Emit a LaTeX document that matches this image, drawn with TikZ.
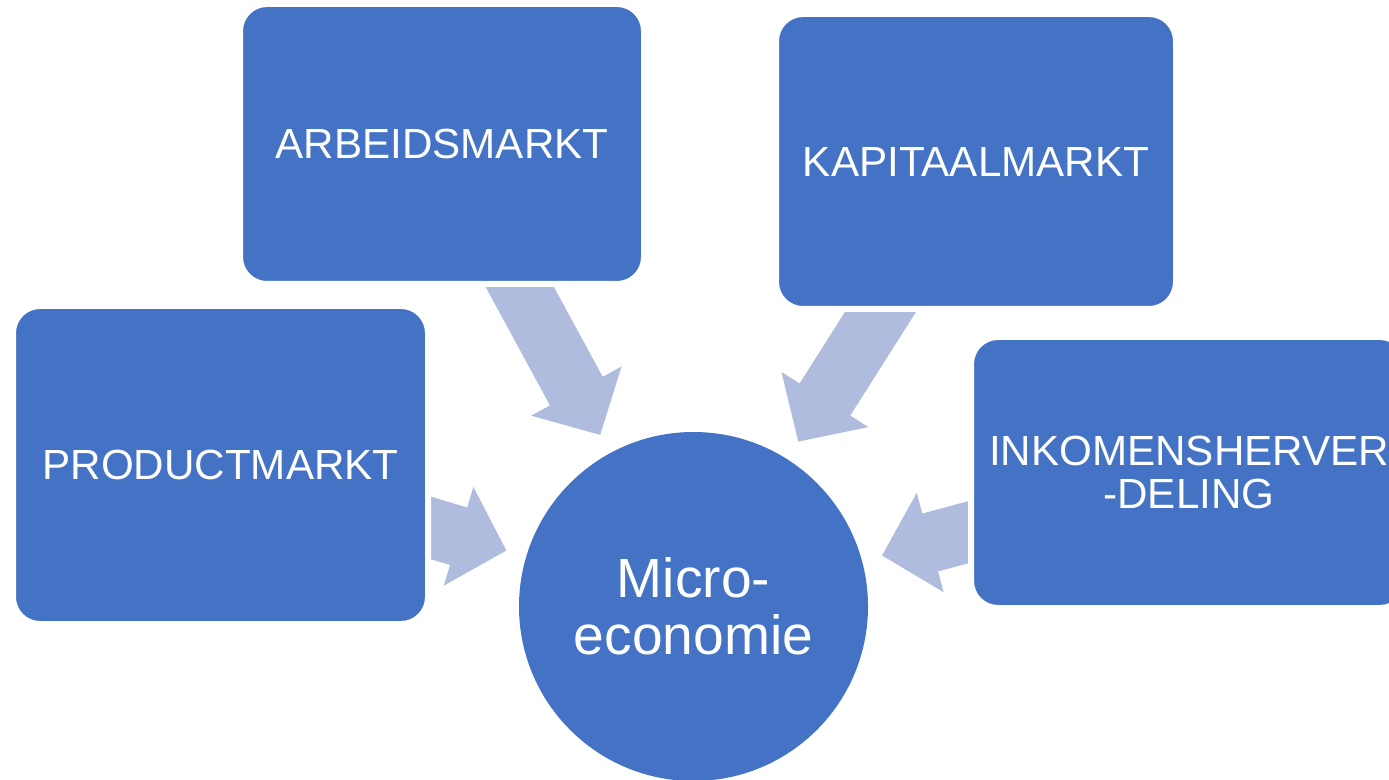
\documentclass[tikz,border=0pt]{standalone}
\usepackage{fontspec}
\setmainfont{Liberation Sans}
\usetikzlibrary{arrows.meta,backgrounds}
\definecolor{blokblauw}{HTML}{4472C4}
\definecolor{pijlblauw}{RGB}{175,188,221}

\begin{document}
\begin{tikzpicture}[
  markt/.style={rectangle, rounded corners=0.27cm, fill=blokblauw, draw=white,
    line width=0.06cm, text=white, align=center, inner sep=0pt,
    font=\fontsize{12}{12.2}\selectfont},
  pijl/.style={draw=pijlblauw, line width=0.6cm,
    -{Triangle[width=1cm,length=0.5cm]}, shorten >=0.2cm}
]
\useasboundingbox (0,0) rectangle (13.89,-7.80);

\node[markt, minimum width=4.04cm, minimum height=2.80cm] (arbeid) at (4.42,-1.44) {ARBEIDSMARKT};
\node[markt, minimum width=4.00cm, minimum height=2.95cm] (kapitaal) at (9.76,-1.615) {KAPITAALMARKT};
\node[markt, minimum width=4.15cm, minimum height=3.18cm] (product) at (2.205,-4.65) {PRODUCTMARKT};
\node[markt, minimum width=4.36cm, minimum height=2.71cm] (inkomen) at (11.89,-4.725) {INKOMENSHERVER\\-DELING};
\node[circle, fill=blokblauw, text=white, align=center, inner sep=0pt,
  minimum size=3.49cm, font=\fontsize{15.7}{16.2}\selectfont] (micro) at (6.935,-6.065) {Micro-\\economie};

% pijlen achter de blokken
\begin{scope}[on background layer]
\path[pijl] (arbeid.center) -- (micro);
\path[pijl] (kapitaal.center) -- (micro);
\path[pijl] (product.center) -- (micro);
\path[pijl] (inkomen.center) -- (micro);
\end{scope}
\end{tikzpicture}
\end{document}
